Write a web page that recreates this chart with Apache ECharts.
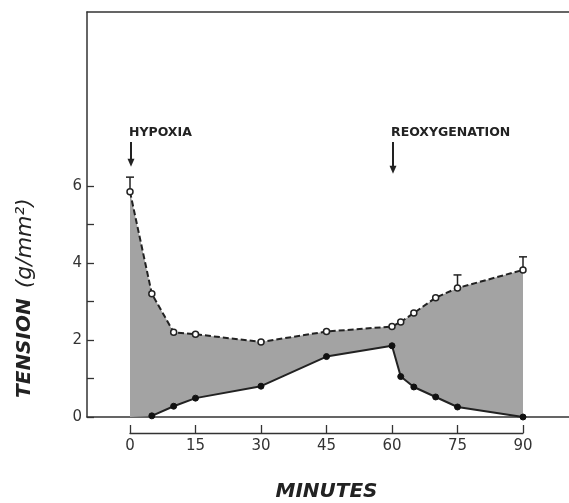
<!DOCTYPE html>
<html><head><meta charset="utf-8">
<script src="https://cdn.jsdelivr.net/npm/echarts@6/dist/echarts.min.js"></script>
<style>html,body{margin:0;padding:0;background:#fff}#c{width:569px;height:503px}</style>
</head><body><div id="c"></div>
<script>
// Open circles (dashed line)
const upperTime  = [0, 5, 10, 15, 30, 45, 60, 62, 65, 70, 75, 90];
const upperValue = [5.85, 3.2, 2.2, 2.15, 1.95, 2.22, 2.35, 2.47, 2.7, 3.1, 3.35, 3.82];
// Filled circles (solid line)
const lowerTime  = [5, 10, 15, 30, 45, 60, 62, 65, 70, 75, 90];
const lowerValue = [0.03, 0.28, 0.49, 0.8, 1.57, 1.85, 1.05, 0.78, 0.52, 0.26, 0.0];
// Error bars (upper ends) on open circles
const errTime = [0, 75, 90];
const errTop  = [6.23, 3.69, 4.16];
// Ticks
const xTicks = [0, 15, 30, 45, 60, 75, 90];
const yTicks = [0, 1, 2, 3, 4, 5, 6];
const yTickLabels = [0, 2, 4, 6];
// Annotations
const noteText = ['HYPOXIA', 'REOXYGENATION'];
const noteTime = [0, 60];
const noteTop  = [7.14, 7.14];
const noteTip  = [6.5, 6.32];

const ink = '#222';
const chart = echarts.init(document.getElementById('c'), null, {renderer: 'canvas'});

const pxPerMin = 393 / 90;
const xMin = -(130 - 87) / pxPerMin;
const xMax = xMin + (569 - 87) / pxPerMin;
const yMax = 405 / 38.5;

const frameLine = {show: true, onZero: false, lineStyle: {color: '#333', width: 1.5}};

chart.setOption({
  animation: false,
  backgroundColor: '#fff',
  grid: [
    {left: 87, right: 0, top: 12, bottom: 86},
    {left: 130, width: 393, top: 432, height: 1}
  ],
  graphic: [{
    type: 'text', x: 25, y: 298, rotation: Math.PI / 2,
    style: {
      text: '{a|TENSION}   {b|(g/mm²)}', align: 'center', verticalAlign: 'middle',
      rich: {
        a: {fontFamily: 'DejaVu Sans', fontWeight: 'bold', fontStyle: 'italic', fontSize: 20, fill: ink},
        b: {fontFamily: 'DejaVu Sans', fontStyle: 'italic', fontSize: 22, fill: ink}
      }
    }
  }],
  xAxis: [
    {type: 'value', gridIndex: 0, position: 'bottom', min: xMin, max: xMax, axisLine: frameLine, axisTick: {show: false}, axisLabel: {show: false}, splitLine: {show: false}},
    {type: 'value', gridIndex: 1, min: 0, max: 90, interval: 15,
      axisLine: {show: true, onZero: false, lineStyle: {color: '#333', width: 1.3}},
      axisTick: {show: true, inside: true, length: 8, lineStyle: {color: '#333', width: 1.3}, customValues: xTicks},
      axisLabel: {show: true, margin: 6, color: '#333', fontSize: 15, fontFamily: 'DejaVu Sans', customValues: xTicks},
      splitLine: {show: false},
      name: 'MINUTES', nameLocation: 'middle', nameGap: 49,
      nameTextStyle: {fontFamily: 'DejaVu Sans', fontWeight: 'bold', fontStyle: 'italic', fontSize: 20, color: ink}
    },
    {type: 'value', gridIndex: 0, position: 'top', min: xMin, max: xMax, axisLine: frameLine, axisTick: {show: false}, axisLabel: {show: false}, splitLine: {show: false}}
  ],
  yAxis: [
    {type: 'value', gridIndex: 0, position: 'left', min: 0, max: yMax, interval: 1,
      axisLine: frameLine,
      axisTick: {show: true, inside: true, length: 7, lineStyle: {color: '#333', width: 1.3}, customValues: yTicks},
      axisLabel: {show: true, margin: 5, color: '#333', fontSize: 15, fontFamily: 'DejaVu Sans', customValues: yTickLabels},
      splitLine: {show: false}
    },
    {type: 'value', gridIndex: 1, show: false}
  ],
  series: [
    {
      type: 'custom', xAxisIndex: 0, yAxisIndex: 0, z: 1, clip: false,
      data: [[0, 0]],
      renderItem: function (params, api) {
        const pts = [];
        for (let i = 0; i < upperTime.length; i++) pts.push(api.coord([upperTime[i], upperValue[i]]));
        for (let i = lowerTime.length - 1; i >= 0; i--) pts.push(api.coord([lowerTime[i], lowerValue[i]]));
        pts.push(api.coord([upperTime[0], 0]));
        return {type: 'polygon', shape: {points: pts}, style: {fill: '#a3a3a3'}};
      }
    },
    {
      type: 'line', xAxisIndex: 0, yAxisIndex: 0, z: 3,
      data: lowerTime.map((t, i) => [t, lowerValue[i]]),
      symbol: 'circle', symbolSize: 6,
      itemStyle: {color: '#111', borderColor: '#111', borderWidth: 1},
      lineStyle: {color: ink, width: 2}
    },
    {
      type: 'line', xAxisIndex: 0, yAxisIndex: 0, z: 4,
      data: upperTime.map((t, i) => [t, upperValue[i]]),
      symbol: 'circle', symbolSize: 6,
      itemStyle: {color: '#fff', borderColor: ink, borderWidth: 1.5},
      lineStyle: {color: ink, width: 2, type: [6, 3]}
    },
    {
      type: 'custom', xAxisIndex: 0, yAxisIndex: 0, z: 3, clip: false,
      data: errTime.map((t, i) => [t, upperValue[upperTime.indexOf(t)], errTop[i]]),
      renderItem: function (params, api) {
        const a = api.coord([api.value(0), api.value(1)]);
        const b = api.coord([api.value(0), api.value(2)]);
        return {type: 'group', children: [
          {type: 'line', shape: {x1: a[0], y1: a[1] - 3, x2: b[0], y2: b[1]}, style: {stroke: ink, lineWidth: 1.5}},
          {type: 'line', shape: {x1: b[0] - 4, y1: b[1], x2: b[0] + 4, y2: b[1]}, style: {stroke: ink, lineWidth: 1.5}}
        ]};
      }
    },
    {
      type: 'custom', xAxisIndex: 0, yAxisIndex: 0, z: 5, clip: false,
      data: noteText.map((s, i) => [noteTime[i], noteTop[i], noteTip[i]]),
      renderItem: function (params, api) {
        const top = api.coord([api.value(0), api.value(1)]);
        const tip = api.coord([api.value(0), api.value(2)]);
        const x = top[0] + 1;
        return {type: 'group', children: [
          {type: 'line', shape: {x1: x, y1: top[1], x2: x, y2: tip[1] - 6}, style: {stroke: ink, lineWidth: 2}},
          {type: 'polygon', shape: {points: [[x - 3.5, tip[1] - 8], [x + 3.5, tip[1] - 8], [x, tip[1]]]}, style: {fill: ink}},
          {type: 'text', x: x - 2, y: top[1] - 3, style: {text: noteText[params.dataIndex], fill: ink,
            font: 'bold 12.5px "DejaVu Sans"', textAlign: 'left', textVerticalAlign: 'bottom'}}
        ]};
      }
    }
  ]
});
</script></body></html>
